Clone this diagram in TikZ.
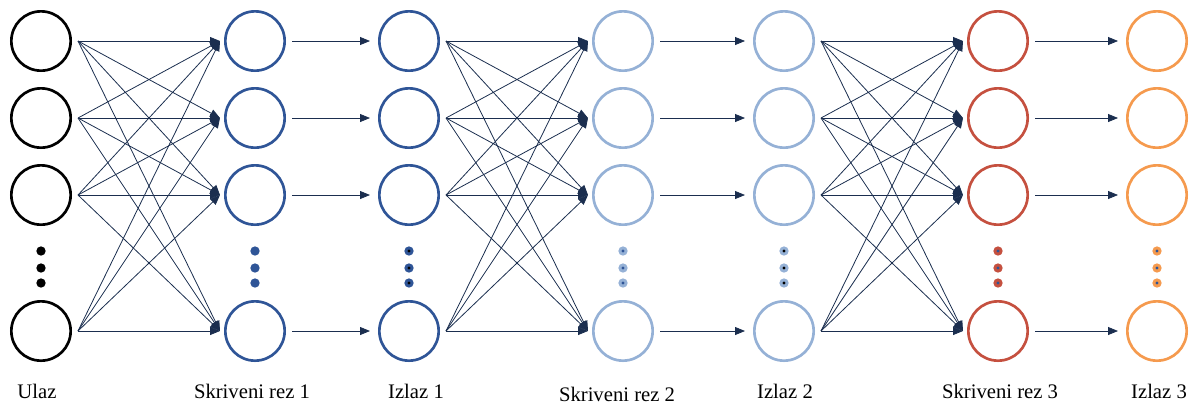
\documentclass[tikz,border=0pt]{standalone}
\usepackage{fontspec}
\setmainfont{Liberation Serif}
\usetikzlibrary{arrows.meta,calc}
\definecolor{cblue}{HTML}{2F5597}
\definecolor{clight}{HTML}{95B1D6}
\definecolor{cred}{HTML}{C5503F}
\definecolor{corange}{HTML}{F59A4E}
\definecolor{carrow}{HTML}{1B2E4F}
\begin{document}
\begin{tikzpicture}[x=0.75pt,y=-0.75pt,
  neuron/.style={circle,draw=#1,line width=2pt,minimum size=44.5pt,inner sep=0pt,outer sep=0pt},
  conn/.style={draw=carrow,line width=0.6pt,-{Triangle[length=7.5pt,width=6pt]}},
  dotouter/.style={circle,fill=#1,inner sep=0pt,minimum size=7pt},
  dotinner/.style={circle,fill=#1,inner sep=0pt,minimum size=2.4pt},
  lbl/.style={font=\fontsize{15.5}{17}\selectfont,anchor=base}
]
\useasboundingbox (0,0) rectangle (1195,405);

% neurons
\foreach \c/\x/\col in {1/41/black,2/255/cblue,3/409/cblue,4/623/clight,5/784/clight,6/998/cred,7/1157/corange}{
  \foreach \r/\y in {1/41,2/118,3/195,4/331}{
    \node[neuron=\col] (n\c r\r) at (\x,\y) {};
  }
}

% vertical dots
\foreach \c/\x/\col/\inn in {1/41/black/black,2/255/cblue/cblue,3/409/cblue/black,4/623/clight/cblue,5/784/clight/black,6/998/cred/cblue,7/1157/corange/cblue}{
  \foreach \k/\y in {1/251,2/268,3/283}{
    \node[dotouter=\col] (d\c k\k) at (\x,\y) {};
    \node[dotinner=\inn] at (d\c k\k.center) {};
  }
}

% fully connected layers
\foreach \a/\b in {1/2,3/4,5/6}{
  \foreach \i in {1,2,3,4}{
    \foreach \j in {1,2,3,4}{
      \draw[conn] ([xshift=5.5pt]n\a r\i.east) -- ([xshift=-4pt]n\b r\j.west);
    }
  }
}

% one-to-one connections
\foreach \a/\b in {2/3,4/5,6/7}{
  \foreach \i in {1,2,3,4}{
    \draw[conn] ([xshift=5.5pt]n\a r\i.east) -- ([xshift=-7pt]n\b r\i.west);
  }
}

% labels
\node[lbl] (l1) at (37,398) {Ulaz};
\node[lbl] (l2) at (252,398) {Skriveni rez 1};
\node[lbl] (l3) at (416,398) {Izlaz 1};
\node[lbl] (l4) at (617,401) {Skriveni rez 2};
\node[lbl] (l5) at (785,398) {Izlaz 2};
\node[lbl] (l6) at (1000,398) {Skriveni rez 3};
\node[lbl] (l7) at (1159,398) {Izlaz 3};
\end{tikzpicture}
\end{document}
